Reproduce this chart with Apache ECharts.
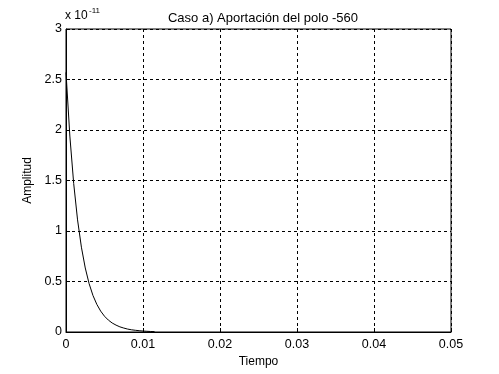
<!DOCTYPE html>
<html><head><meta charset="utf-8">
<script src="https://cdn.jsdelivr.net/npm/echarts@6/dist/echarts.min.js"></script>
<style>html,body{margin:0;padding:0;background:#fff}#c{width:499px;height:374px}</style>
</head><body><div id="c"></div>
<script>
// time (s) and amplitude (units of 1e-11)
var tiempo = [0,0.0005,0.001,0.0015,0.002,0.0025,0.003,0.0035,0.004,0.0045,0.005,0.0055,0.006,0.0065,0.007,0.0075,0.008,0.0085,0.009,0.0095,0.01,0.0105,0.011,0.0115];
var amplitud = [2.57,1.94,1.47,1.11,0.84,0.634,0.479,0.362,0.274,0.207,0.156,0.118,0.089,0.068,0.051,0.039,0.029,0.022,0.017,0.013,0.0095,0.007,0.005,0.004];
var xTicks = [0,0.01,0.02,0.03,0.04,0.05];
var yTicks = [0,0.5,1,1.5,2,2.5,3];
var titleText = 'Caso a) Aportación del polo -560';

var pts = tiempo.map(function(t,i){return [t, amplitud[i]];});
var font = 'Liberation Sans, Arial, sans-serif';
var chart = echarts.init(document.getElementById('c'));
chart.setOption({
  backgroundColor:'#fff',
  animation:false,
  title:{text:titleText,left:258,top:7,textAlign:'center',
    textStyle:{fontFamily:font,fontSize:13,fontWeight:'normal',color:'#000'}},
  grid:{left:66,right:48,top:29,bottom:42,show:true,borderColor:'#000',borderWidth:1,backgroundColor:'#fff'},
  xAxis:{type:'value',min:0,max:0.05,interval:0.01,
    name:'Tiempo',nameLocation:'middle',nameGap:24,
    nameTextStyle:{fontFamily:font,fontSize:12,color:'#000'},
    axisLine:{lineStyle:{color:'#000'}},
    axisTick:{inside:true,length:4,lineStyle:{color:'#000'}},
    axisLabel:{color:'#000',fontFamily:font,fontSize:12.5,margin:6,
      formatter:function(v){var r=Math.round(v*100)/100;return xTicks.indexOf(r)>=0?String(r):'';}},
    splitLine:{show:true,lineStyle:{color:'#000',type:[3,3],width:1}}},
  yAxis:{type:'value',min:0,max:3,interval:0.5,
    name:'Amplitud',nameLocation:'middle',nameGap:31,nameRotate:90,
    nameTextStyle:{fontFamily:font,fontSize:12,color:'#000'},
    axisLine:{show:true,lineStyle:{color:'#000'}},
    axisTick:{show:true,inside:true,length:4,lineStyle:{color:'#000'}},
    axisLabel:{color:'#000',fontFamily:font,fontSize:12.5,margin:4,
      formatter:function(v){var r=Math.round(v*10)/10;return yTicks.indexOf(r)>=0?String(r):'';}},
    splitLine:{show:true,lineStyle:{color:'#000',type:[3,3],width:1}}},
  graphic:[
    {type:'text',left:65,top:10,style:{text:'x 10',fill:'#000',font:'12px '+font}},
    {type:'text',left:89,top:7,style:{text:'-11',fill:'#000',font:'8px '+font}}
  ],
  series:[{type:'line',data:pts,showSymbol:false,smooth:false,
    lineStyle:{color:'#000',width:1},z:5}]
});
</script></body></html>
